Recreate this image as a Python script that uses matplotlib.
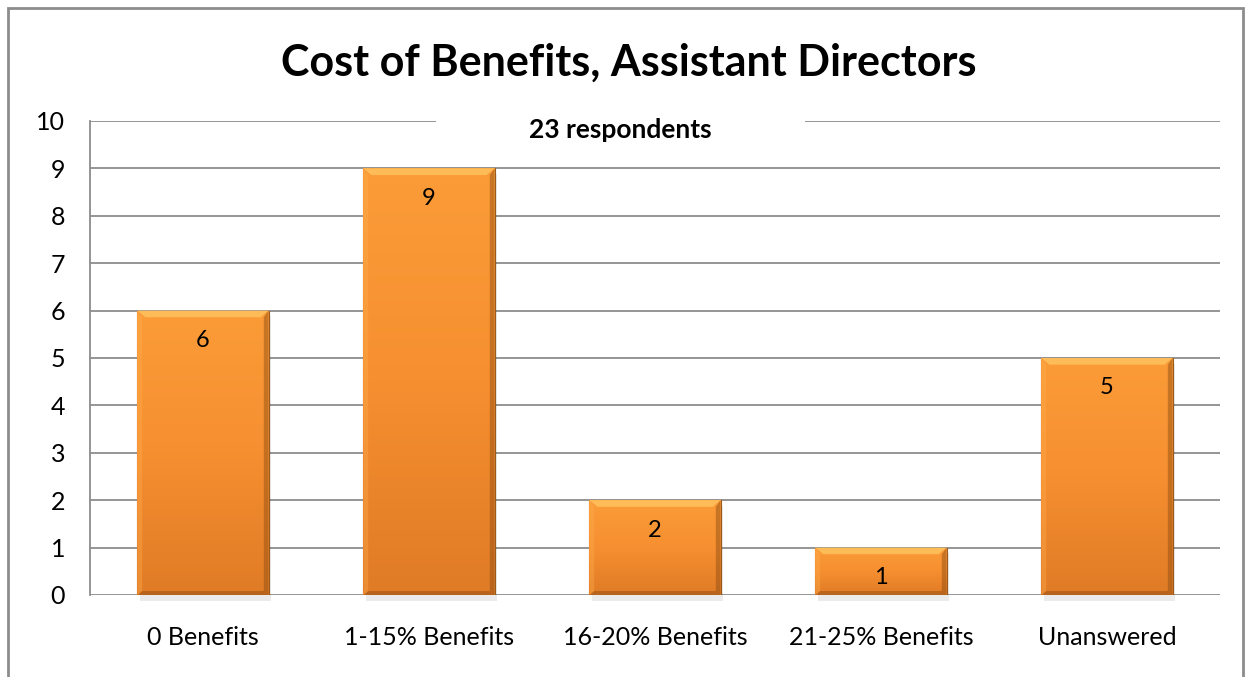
import numpy as np
import matplotlib
matplotlib.use("Agg")
import matplotlib.pyplot as plt
from matplotlib.patches import Rectangle, Polygon
from matplotlib.colors import LinearSegmentedColormap

categories = ["0 Benefits", "1-15% Benefits", "16-20% Benefits", "21-25% Benefits", "Unanswered"]
values = [6, 9, 2, 1, 5]
yticks = list(range(0, 11))
title = "Cost of Benefits, Assistant Directors"
subtitle = "23 respondents"

plt.rcParams['font.family'] = ['Lato', 'DejaVu Sans']

W, H = 1247, 677
fig = plt.figure(figsize=(W / 100, H / 100), dpi=100)
ax = fig.add_axes([90 / W, 1 - 595 / H, (1220 - 90) / W, (595 - 121) / H])

# outer border
fig.patches.append(Rectangle((8 / W, -0.05), (1243 - 8) / W, 1 - 8 / H + 0.05,
                             transform=fig.transFigure, fill=False,
                             edgecolor="#8c8c8c", linewidth=2, zorder=0))

ax.set_xlim(-0.5, len(categories) - 0.5)
ax.set_ylim(0, 10)
ax.set_yticks(yticks)
ax.set_yticklabels([str(t) for t in yticks], fontsize=18)
ax.set_xticks(range(len(categories)))
ax.set_xticklabels(categories, fontsize=18)
ax.tick_params(axis='x', length=0, pad=22)
ax.tick_params(axis='y', length=0, pad=18)
for s in ["top", "right", "bottom"]:
    ax.spines[s].set_visible(False)
ax.spines["left"].set_color("#8c8c8c")
ax.spines["left"].set_linewidth(1.3)
ax.yaxis.grid(True, color="#8c8c8c", linewidth=1.3)
ax.set_axisbelow(True)

cmap = LinearSegmentedColormap.from_list("org", ["#fb9c38", "#f68f30", "#e07b26"])
bw = 0.58
bars = ax.bar(range(len(categories)), values, width=bw, color="none",
              edgecolor="#9a5a1c", linewidth=0.8, zorder=3)
grad = np.linspace(0, 1, 256).reshape(-1, 1)
for i, (b, v) in enumerate(zip(bars, values)):
    x0 = b.get_x()
    x1 = x0 + bw
    # shadow
    ax.add_patch(Rectangle((x0 + 0.01, -0.12), bw, v, facecolor="#000000", alpha=0.08,
                           edgecolor="none", zorder=2, clip_on=False))
    im = ax.imshow(grad, extent=(x0, x1, 0, v), origin="upper", cmap=cmap,
                   aspect="auto", zorder=3)
    im.set_clip_path(b)
    # bevels
    dx, dy = 0.035, 0.14
    ax.add_patch(Polygon([(x0, v), (x1, v), (x1 - dx, v - dy), (x0 + dx, v - dy)],
                         facecolor="#ffc862", alpha=0.75, edgecolor="none", zorder=4))
    ax.add_patch(Polygon([(x1, v), (x1, 0), (x1 - dx * 0.6, dy * 0.6), (x1 - dx * 0.6, v - dy)],
                         facecolor="#8a4a10", alpha=0.45, edgecolor="none", zorder=4))
    ax.add_patch(Polygon([(x0, 0), (x1, 0), (x1 - dx * 0.6, dy * 0.6), (x0 + dx * 0.6, dy * 0.6)],
                         facecolor="#8a4a10", alpha=0.45, edgecolor="none", zorder=4))
    ax.add_patch(Polygon([(x0, v), (x0, 0), (x0 + dx * 0.6, dy * 0.6), (x0 + dx * 0.6, v - dy)],
                         facecolor="#ffb050", alpha=0.35, edgecolor="none", zorder=4))
    ax.text(i, v - 0.63, str(v), ha="center", va="center", fontsize=17, color="black", zorder=5)

ax.set_xlim(-0.5, len(categories) - 0.5)
ax.set_ylim(0, 10)

fig.text(629 / W, 1 - 63 / H, title, ha="center", va="center", fontsize=31,
         fontweight="bold", color="black")
fig.patches.append(Rectangle((436 / W, 1 - 145 / H), (805 - 436) / W, 40 / H,
                             transform=fig.transFigure, facecolor="white",
                             edgecolor="none", zorder=5))
fig.text(620 / W, 1 - 130 / H, subtitle, ha="center", va="center", fontsize=19,
         fontweight="bold", color="black", zorder=10)

fig.savefig("out.png", dpi=100)
